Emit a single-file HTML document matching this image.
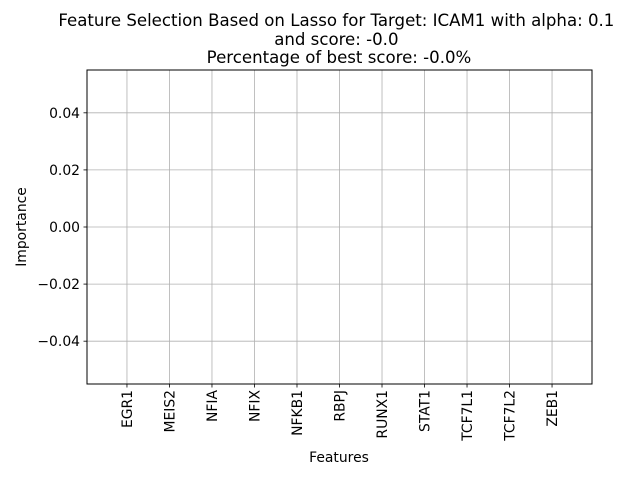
<!DOCTYPE html>
<html><head><meta charset="utf-8"><style>
body{margin:0;background:#fff;}
svg{font-family:"DejaVu Sans","Liberation Sans",sans-serif;}
</style></head><body>
<svg id="chart" width="640" height="480" viewBox="0 0 640 480">
<rect width="640" height="480" fill="#fff"/>
<g id="grid"></g>
<g id="bars"></g>
<rect x="87" y="70" width="505" height="314" fill="none" stroke="#000" stroke-width="1"/>
<g id="xticks"></g>
<g id="yticks"></g>
<text x="339" y="26" font-size="16.6" text-anchor="middle">
<tspan x="339" y="26">Feature Selection Based on Lasso for Target: ICAM1 with alpha: 0.1</tspan>
<tspan x="339" y="45">and score: -0.0</tspan>
<tspan x="339" y="63">Percentage of best score: -0.0%</tspan>
</text>
<text x="339" y="462" font-size="13.9" text-anchor="middle">Features</text>
<text transform="translate(26,227) rotate(-90)" font-size="13.9" text-anchor="middle">Importance</text>
</svg>
<script>
const categories=["EGR1","MEIS2","NFIA","NFIX","NFKB1","RBPJ","RUNX1","STAT1","TCF7L1","TCF7L2","ZEB1"];
const values=[0,0,0,0,0,0,0,0,0,0,0];
const yTicks=[0.04,0.02,0.00,-0.02,-0.04];
const yTickLabels=["0.04","0.02","0.00","\u22120.02","\u22120.04"];
const NS="http://www.w3.org/2000/svg";
const L=87,R=592,T=70,B=384;
const xMin=-0.94,xMax=categories.length-1+0.94;
const yMin=-0.055,yMax=0.055;
function xs(i){return L+(i-xMin)/(xMax-xMin)*(R-L);}
function ys(v){return B-(v-yMin)/(yMax-yMin)*(B-T);}
function mk(t,a,p){const e=document.createElementNS(NS,t);for(const k in a)e.setAttribute(k,a[k]);p.appendChild(e);return e;}
const grid=document.getElementById('grid'),bars=document.getElementById('bars'),xt=document.getElementById('xticks'),yt=document.getElementById('yticks');
categories.forEach((c,i)=>{
 const x=xs(i);
 const g=mk('line',{x1:x,x2:x,y1:T,y2:B,stroke:'#b0b0b0','stroke-width':0.8},grid);
 
 
 const w=0.8*(R-L)/(xMax-xMin);
 const y0=ys(0),y1=ys(values[i]);
 const b=mk('rect',{x:x-w/2,y:Math.min(y0,y1),width:w,height:Math.abs(y1-y0),fill:'#1f77b4'},bars);
 
 
 const tk=mk('line',{x1:x,x2:x,y1:B,y2:B+3.5,stroke:'#000','stroke-width':0.8},xt);
 
 
 const t=mk('text',{transform:`translate(${x+5},${B+6}) rotate(-90)`,'font-size':13.9,'text-anchor':'end'},xt);
 t.textContent=c;
 
 
});
yTicks.forEach((v,i)=>{
 const y=ys(v);
 const g=mk('line',{x1:L,x2:R,y1:y,y2:y,stroke:'#b0b0b0','stroke-width':0.8},grid);
 
 
 const tk=mk('line',{x1:L-3.5,x2:L,y1:y,y2:y,stroke:'#000','stroke-width':0.8},yt);
 
 
 const t=mk('text',{x:L-7,y:y+5,'font-size':13.9,'text-anchor':'end'},yt);
 t.textContent=yTickLabels[i];
 
 
});
</script>
</body></html>
